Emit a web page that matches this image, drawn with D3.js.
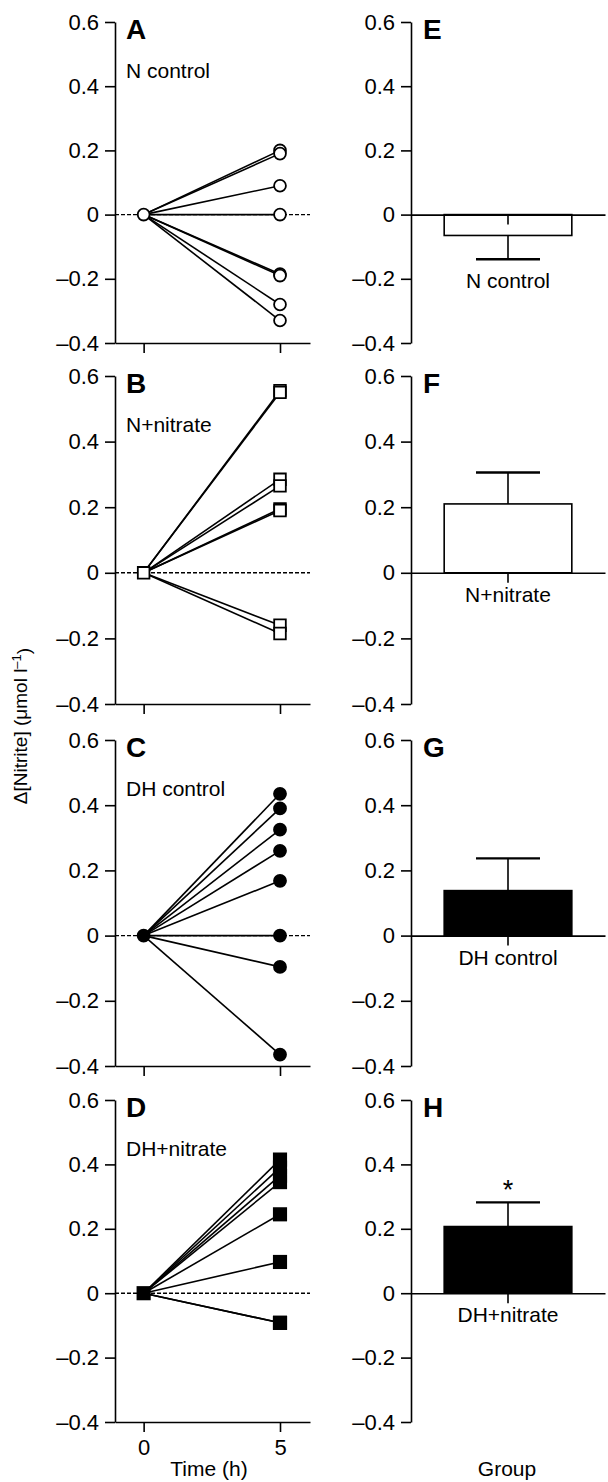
<!DOCTYPE html>
<html>
<head>
<meta charset="utf-8">
<script src="https://cdn.jsdelivr.net/npm/d3@7"></script>
<style>
  body { margin: 0; background: #fff; }
  svg text { font-family: "Liberation Sans", Arial, sans-serif; fill: #000; }
</style>
</head>
<body>
<div id="chart"></div>
<script>
// data
var groups = ["N control", "N+nitrate", "DH control", "DH+nitrate"];
var leftLetters = ["A", "B", "C", "D"];
var rightLetters = ["E", "F", "G", "H"];
var times = [0, 5];
var timeTicks = [0, 5];
var yTicks = [-0.4, -0.2, 0, 0.2, 0.4, 0.6];

// change in nitrite at 5 h (start is 0 for everyone)
var nControlEnd = [0.20, 0.19, 0.09, 0, -0.185, -0.19, -0.28, -0.33];
var nNitrateEnd = [0.555, 0.55, 0.285, 0.265, 0.195, 0.19, -0.16, -0.185];
var dhControlEnd = [0.435, 0.39, 0.325, 0.26, 0.168, 0, -0.096, -0.365];
var dhNitrateEnd = [0.415, 0.39, 0.365, 0.345, 0.245, 0.097, -0.092, -0.092];
var endValues = [nControlEnd, nNitrateEnd, dhControlEnd, dhNitrateEnd];

// group means and SEM (bar panels)
var barMeans = [-0.065, 0.21, 0.138, 0.207];
var barSE = [0.074, 0.096, 0.099, 0.075];
var sigMarks = ["", "", "", "*"];

// layout
var svgWidth = 608;
var svgHeight = 1482;
var rowTops = [22, 376, 740, 1100];
var rowBottoms = [343, 704, 1066, 1422];
var leftX = 115, leftRight = 310;
var rightX = 411, rightRight = 605;
var strokeW = 1.6;

var markerType = [d3.symbolCircle, d3.symbolSquare, d3.symbolCircle, d3.symbolSquare];
var markerSize = [110, 135, 150, 200];
var markerFilled = [false, false, true, true];
var barFill = ["#fff", "#fff", "#000", "#000"];

var svg = d3.select("#chart")
  .append("svg")
  .attr("width", svgWidth)
  .attr("height", svgHeight);

function fmt(d) {
  if (d === 0) return "0";
  return (d < 0 ? "\u2013" : "") + Math.abs(d).toFixed(1);
}

function styleAxis(g) {
  g.select(".domain").attr("stroke", "#000").attr("stroke-width", strokeW);
  g.selectAll(".tick line").attr("stroke", "#000").attr("stroke-width", strokeW);
  g.selectAll(".tick text").attr("font-size", "22px").attr("fill", "#000");
  g.attr("font-family", null);
}

groups.forEach(function(name, i) {
  var yScale = d3.scaleLinear()
    .domain([-0.4, 0.6])
    .range([rowBottoms[i], rowTops[i]]);

  // ---------- left: individual fish ----------
  var xScale = d3.scaleLinear()
    .domain([-1.05, 6.1])
    .range([leftX, leftRight]);

  var left = svg.append("g");

  // dotted zero line
  left.append("line")
    .attr("x1", leftX)
    .attr("x2", leftRight)
    .attr("y1", yScale(0))
    .attr("y2", yScale(0))
    .attr("stroke", "#000")
    .attr("stroke-width", 1.4)
    .attr("stroke-dasharray", "4,2");

  left.append("g")
    .attr("transform", `translate(${leftX},0)`)
    .call(d3.axisLeft(yScale).tickValues(yTicks).tickSize(10).tickSizeOuter(0).tickPadding(6).tickFormat(fmt))
    .call(styleAxis);

  left.append("g")
    .attr("transform", `translate(0,${rowBottoms[i]})`)
    .call(d3.axisBottom(xScale).tickValues(timeTicks).tickSize(10).tickSizeOuter(0).tickPadding(7)
      .tickFormat(i === 3 ? d3.format("d") : ""))
    .call(styleAxis);

  left.selectAll(".fish")
    .data(endValues[i])
    .enter()
    .append("line")
    .attr("x1", xScale(times[0]))
    .attr("y1", yScale(0))
    .attr("x2", xScale(times[1]))
    .attr("y2", d => yScale(d))
    .attr("stroke", "#000")
    .attr("stroke-width", strokeW);

  var sym = d3.symbol().type(markerType[i]).size(markerSize[i]);
  var pts = [{t: times[0], v: 0}].concat(endValues[i].map(v => ({t: times[1], v: v})));
  left.selectAll(".pt")
    .data(pts)
    .enter()
    .append("path")
    .attr("d", sym)
    .attr("transform", d => `translate(${xScale(d.t)},${yScale(d.v)})`)
    .attr("fill", markerFilled[i] ? "#000" : "#fff")
    .attr("stroke", "#000")
    .attr("stroke-width", markerFilled[i] ? 0 : 1.8);

  left.append("text")
    .attr("x", leftX + 11)
    .attr("y", rowTops[i] + 17)
    .attr("font-size", "28px")
    .attr("font-weight", "bold")
    .text(leftLetters[i]);

  left.append("text")
    .attr("x", leftX + 11)
    .attr("y", rowTops[i] + 56)
    .attr("font-size", "21px")
    .text(name);

  // ---------- right: group mean ----------
  var xBand = d3.scaleBand()
    .domain([name])
    .range([rightX, rightRight])
    .paddingOuter(0.26);

  var right = svg.append("g");
  var m = barMeans[i], se = barSE[i];
  var cx = xBand(name) + xBand.bandwidth() / 2;

  right.append("rect")
    .attr("x", xBand(name))
    .attr("width", xBand.bandwidth())
    .attr("y", yScale(Math.max(0, m)))
    .attr("height", Math.abs(yScale(m) - yScale(0)))
    .attr("fill", barFill[i])
    .attr("stroke", "#000")
    .attr("stroke-width", strokeW);

  var tip = m >= 0 ? m + se : m - se;
  right.append("line")
    .attr("x1", cx).attr("x2", cx)
    .attr("y1", yScale(m)).attr("y2", yScale(tip))
    .attr("stroke", "#000")
    .attr("stroke-width", strokeW);
  right.append("line")
    .attr("x1", cx - 32).attr("x2", cx + 32)
    .attr("y1", yScale(tip)).attr("y2", yScale(tip))
    .attr("stroke", "#000")
    .attr("stroke-width", 2.4);

  right.append("g")
    .attr("transform", `translate(${rightX},0)`)
    .call(d3.axisLeft(yScale).tickValues(yTicks).tickSize(10).tickSizeOuter(0).tickPadding(6).tickFormat(fmt))
    .call(styleAxis);

  right.append("g")
    .attr("transform", `translate(0,${yScale(0)})`)
    .call(d3.axisBottom(xBand).tickSize(10).tickSizeOuter(0).tickFormat(""))
    .call(styleAxis);

  if (sigMarks[i]) {
    right.append("text")
      .attr("x", cx)
      .attr("y", yScale(m + se) - 3)
      .attr("text-anchor", "middle")
      .attr("font-size", "27px")
      .text(sigMarks[i]);
  }

  right.append("text")
    .attr("x", cx)
    .attr("y", (m < 0 ? yScale(m - se) : yScale(0)) + 29)
    .attr("text-anchor", "middle")
    .attr("font-size", "21px")
    .text(name);

  right.append("text")
    .attr("x", rightX + 12)
    .attr("y", rowTops[i] + 17)
    .attr("font-size", "28px")
    .attr("font-weight", "bold")
    .text(rightLetters[i]);
});

// axis titles
svg.append("text")
  .attr("x", 209)
  .attr("y", 1476)
  .attr("text-anchor", "middle")
  .attr("font-size", "21px")
  .text("Time (h)");

svg.append("text")
  .attr("x", 507)
  .attr("y", 1476)
  .attr("text-anchor", "middle")
  .attr("font-size", "21px")
  .text("Group");

var yTitle = svg.append("text")
  .attr("transform", "translate(27,726) rotate(-90)")
  .attr("text-anchor", "middle")
  .attr("font-size", "19px");
yTitle.append("tspan").text("\u0394[Nitrite] (\u03bcmol l");
yTitle.append("tspan").attr("dy", "-0.45em").attr("font-size", "13px").text("\u20131");
yTitle.append("tspan").attr("dy", "0.45em").text(")");
</script>
</body>
</html>
